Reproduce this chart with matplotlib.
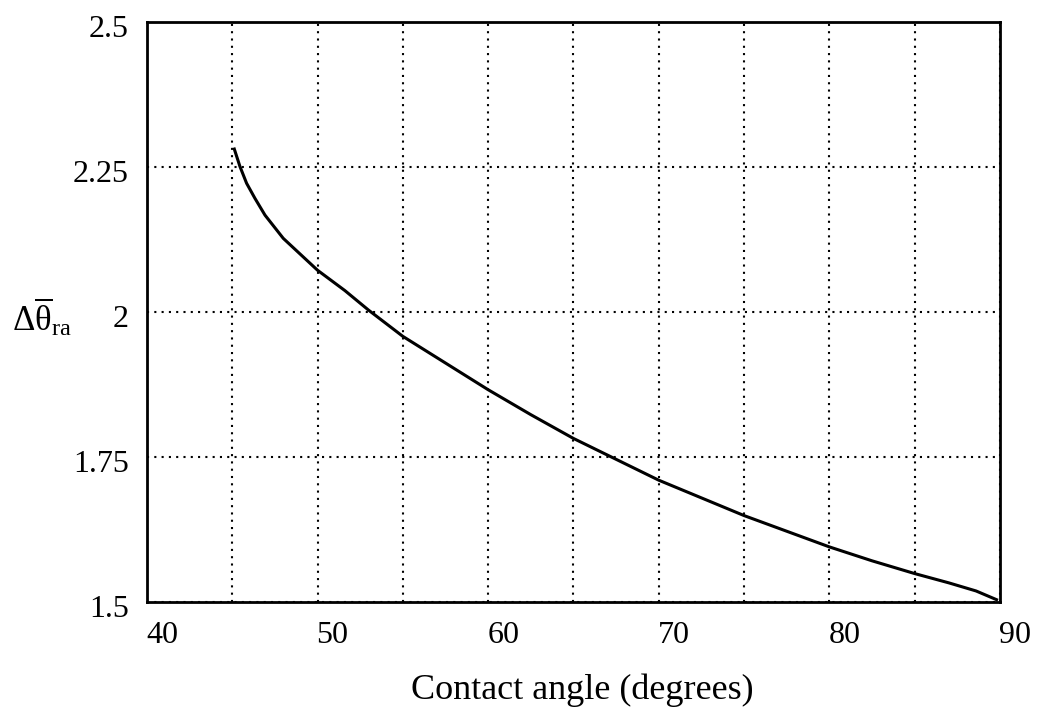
import numpy as np
import matplotlib
matplotlib.use("Agg")
import matplotlib.pyplot as plt
from matplotlib.transforms import ScaledTranslation

# Datos
angulo = [45.12, 45.45, 45.84, 46.33, 46.92, 47.99, 50.0, 51.6, 53.0, 55.0, 57.5, 60.0,
          62.5, 65.0, 70.0, 75.0, 80.0, 82.5, 85.0, 87.0, 88.6, 89.8]
delta_theta = [2.281, 2.251, 2.222, 2.196, 2.167, 2.127, 2.072, 2.037, 2.003, 1.958, 1.912, 1.866,
               1.823, 1.782, 1.710, 1.649, 1.595, 1.571, 1.549, 1.533, 1.519, 1.504]

x_ticks = [40, 50, 60, 70, 80, 90]
y_ticks = [1.5, 1.75, 2.0, 2.25, 2.5]
y_labels = ["1.5", "1.75", "2", "2.25", "2.5"]

plt.rcParams['font.family'] = ['Liberation Serif', 'DejaVu Serif']
plt.rcParams['mathtext.fontset'] = 'custom'
plt.rcParams['mathtext.rm'] = 'Liberation Serif'
plt.rcParams['mathtext.it'] = 'Liberation Serif'

fig = plt.figure(figsize=(10.4, 7.13), dpi=100)
ax = fig.add_axes([0.1413, 0.1557, 0.8202, 0.8134])

ax.plot(angulo, delta_theta, color='black', linewidth=2.2, solid_joinstyle='round')

ax.set_xlim(40, 90)
ax.set_ylim(1.5, 2.5)
ax.set_xticks(x_ticks)
ax.set_xticks(np.arange(45, 90, 10), minor=True)
ax.set_yticks(y_ticks)
ax.set_yticklabels(y_labels)

# Grilla punteada
punteado = (0, (1, 2.5))
ax.grid(True, which='both', axis='x', linestyle=punteado, color='black', linewidth=1.5)
ax.grid(True, which='major', axis='y', linestyle=punteado, color='black', linewidth=1.5)

ax.tick_params(axis='both', which='both', length=0, labelsize=23)
ax.tick_params(axis='x', pad=14)
ax.tick_params(axis='y', pad=13)

for s in ax.spines.values():
    s.set_linewidth(2.0)

# Desplazar etiquetas como en el original
for lab in ax.get_xticklabels():
    lab.set_transform(lab.get_transform() + ScaledTranslation(0.15, 0, fig.dpi_scale_trans))
for lab in ax.get_yticklabels():
    lab.set_transform(lab.get_transform() + ScaledTranslation(0, -0.04, fig.dpi_scale_trans))

ax.set_xlabel("Contact angle (degrees)", fontsize=26)
ax.xaxis.set_label_coords(0.51, -0.152)
ax.xaxis.label.set_va('center')

ax.set_ylabel(r"$\Delta\overline{\theta}_{\mathrm{ra}}$", fontsize=25, rotation=0,
              ha='left', va='center')
ax.yaxis.set_label_coords(-0.158, 0.49)

plt.savefig("out.png", dpi=100)
